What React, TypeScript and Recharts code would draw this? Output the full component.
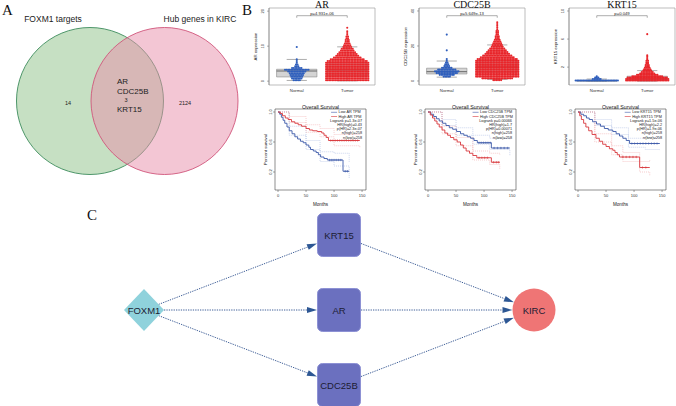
import React from 'react';
import {
  ScatterChart,
  Scatter,
  ComposedChart,
  Line,
  XAxis,
  YAxis,
  ReferenceArea,
  ReferenceLine,
} from 'recharts';

const SANS = '"Liberation Sans", Arial, Helvetica, sans-serif';
const SERIF = '"Liberation Serif", "Times New Roman", serif';

// ---------- A: Venn ----------
const vennNames = ['FOXM1 targets', 'Hub genes in KIRC'];
const vennOnly = [14, 2124];
const vennShared = 3;
const vennSharedGenes = ['AR', 'CDC25B', 'KRT15'];

// ---------- B: expression (dots per beeswarm row, lowest row first) ----------
const exprGenes = ['AR', 'CDC25B', 'KRT15'];
const exprGroups = ['Normal', 'Tumor'];
const exprPvals = ['p=4.931e-06', 'p=5.649e-13', 'p=0.049'];
const exprTicks = [[0, 5, 10, 15, 20], [0, 10, 20, 30, 40], [0, 2, 4, 6, 8, 10]];
const exprRowStep = [0.5, 1, 0.2];

const arNormalRows = [5, 7, 8, 9, 10, 12, 16, 7, 3, 2, 1, 1, 1, 0, 0, 0, 0, 0, 0, 1];
const arTumorRows = [28, 28, 28, 28, 28, 28, 28, 28, 28, 28, 28, 26, 22, 18, 15, 13, 11, 9, 8, 6, 5, 4, 3, 3, 2, 2, 1, 1, 1, 0, 1];
const cdcNormalRows = [0, 0, 5, 10, 14, 16, 12, 7, 4, 3, 2, 1, 1, 0, 0, 0, 0, 1, 0, 0, 0, 0, 0, 0, 0, 0, 1];
const cdcTumorRows = [6, 20, 28, 28, 28, 28, 28, 28, 28, 28, 28, 28, 26, 22, 19, 16, 14, 12, 10, 8, 7, 6, 5, 4, 3, 3, 2, 2, 2, 1, 1, 1, 1, 1];
const ktNormalRows = [28, 6, 3, 1];
const ktTumorRows = [28, 28, 26, 20, 14, 10, 8, 6, 5, 4, 3, 3, 2, 2, 2, 1, 1, 1, 1, 0, 0, 0, 0, 0, 0, 0, 0, 0, 0, 0, 0, 0, 0, 1];

// [lower whisker, q1, median, q3, upper whisker]
const arNormalBox = [0.2, 1.2, 2.9, 3.4, 6.2];
const arTumorBox = [0.1, 1.5, 3.2, 5.3, 9.8];
const cdcNormalBox = [2.2, 4.0, 5.3, 7.3, 11.4];
const cdcTumorBox = [0.9, 5.0, 8.0, 12.0, 20.6];
const ktNormalBox = [0, 0.02, 0.05, 0.12, 0.3];
const ktTumorBox = [0, 0.1, 0.3, 0.7, 1.5];

// ---------- B: overall survival ([months, survival]) ----------
const survTicksX = [0, 50, 100, 150];
const survTicksY = [0, 0.2, 0.4, 0.6, 0.8, 1];

const arLowSurv = [[0, 1], [3, 0.97], [6, 0.93], [9, 0.89], [12, 0.85], [16, 0.8], [20, 0.75], [25, 0.71], [30, 0.67], [35, 0.64], [40, 0.61], [45, 0.59], [50, 0.56], [55, 0.53], [58, 0.5], [63, 0.48], [68, 0.46], [72, 0.43], [76, 0.4], [82, 0.38], [88, 0.36], [116, 0.21], [127, 0.21]];
const arHighSurv = [[0, 1], [4, 0.98], [8, 0.95], [13, 0.92], [18, 0.9], [24, 0.87], [30, 0.85], [36, 0.83], [42, 0.81], [50, 0.78], [56, 0.76], [62, 0.75], [70, 0.74], [78, 0.72], [82, 0.69], [86, 0.66], [90, 0.62], [146, 0.62]];
const cdcLowSurv = [[0, 1], [5, 0.97], [10, 0.94], [15, 0.91], [20, 0.88], [26, 0.85], [32, 0.82], [38, 0.79], [44, 0.77], [51, 0.74], [58, 0.71], [64, 0.69], [70, 0.67], [76, 0.65], [82, 0.62], [88, 0.59], [113, 0.52], [146, 0.52]];
const cdcHighSurv = [[0, 1], [4, 0.96], [8, 0.92], [12, 0.88], [16, 0.84], [20, 0.8], [25, 0.76], [30, 0.72], [35, 0.69], [40, 0.66], [46, 0.63], [52, 0.6], [58, 0.56], [63, 0.52], [68, 0.48], [74, 0.45], [80, 0.42], [87, 0.39], [113, 0.33], [128, 0.33]];
const ktLowSurv = [[0, 1], [5, 0.97], [10, 0.95], [15, 0.92], [20, 0.9], [26, 0.87], [33, 0.84], [40, 0.81], [47, 0.78], [54, 0.76], [62, 0.74], [68, 0.71], [74, 0.68], [80, 0.65], [86, 0.62], [92, 0.58], [146, 0.58]];
const ktHighSurv = [[0, 1], [3, 0.95], [6, 0.9], [10, 0.85], [14, 0.8], [19, 0.75], [25, 0.7], [32, 0.65], [38, 0.61], [44, 0.57], [50, 0.54], [56, 0.51], [62, 0.49], [66, 0.46], [70, 0.43], [74, 0.4], [110, 0.26], [128, 0.26]];

// 95% bands: [months, lower, upper]
const arLowBand = [[0, 1, 1], [20, 0.69, 0.81], [50, 0.5, 0.62], [75, 0.34, 0.47], [100, 0.28, 0.45], [127, 0.12, 0.33]];
const arHighBand = [[0, 1, 1], [20, 0.86, 0.94], [50, 0.73, 0.83], [75, 0.67, 0.78], [100, 0.55, 0.7], [146, 0.53, 0.71]];
const cdcLowBand = [[0, 1, 1], [25, 0.82, 0.9], [50, 0.69, 0.79], [80, 0.57, 0.69], [110, 0.5, 0.65], [146, 0.42, 0.63]];
const cdcHighBand = [[0, 1, 1], [25, 0.71, 0.81], [50, 0.55, 0.66], [80, 0.36, 0.48], [110, 0.3, 0.45], [128, 0.24, 0.43]];
const ktLowBand = [[0, 1, 1], [30, 0.82, 0.9], [60, 0.7, 0.79], [90, 0.53, 0.65], [120, 0.5, 0.66], [146, 0.49, 0.67]];
const ktHighBand = [[0, 1, 1], [30, 0.6, 0.71], [60, 0.43, 0.55], [80, 0.34, 0.46], [110, 0.2, 0.34], [128, 0.15, 0.36]];

// censored observations
const arLowCens = [[92, 0.36], [96, 0.36], [100, 0.36], [104, 0.36], [108, 0.36], [112, 0.36], [120, 0.21], [124, 0.21]];
const arHighCens = [[94, 0.62], [98, 0.62], [102, 0.62], [106, 0.62], [110, 0.62], [114, 0.62], [118, 0.62], [122, 0.62], [126, 0.62], [130, 0.62], [134, 0.62], [138, 0.62], [142, 0.62]];
const cdcLowCens = [[91, 0.59], [95, 0.59], [99, 0.59], [103, 0.59], [107, 0.59], [111, 0.59], [118, 0.52], [124, 0.52], [130, 0.52], [136, 0.52], [142, 0.52]];
const cdcHighCens = [[91, 0.39], [96, 0.39], [101, 0.39], [106, 0.39], [117, 0.33], [122, 0.33], [126, 0.33]];
const ktLowCens = [[96, 0.58], [101, 0.58], [106, 0.58], [111, 0.58], [116, 0.58], [121, 0.58], [126, 0.58], [131, 0.58], [136, 0.58], [141, 0.58]];
const ktHighCens = [[80, 0.4], [86, 0.4], [92, 0.4], [98, 0.4], [104, 0.4], [115, 0.26], [121, 0.26]];

const survLegends = [
  ['Low AR TPM', 'High AR TPM', 'Logrank p=1.3e-07', 'HR(high)=0.43', 'p(HR)=2.3e-07', 'n(high)=258', 'n(low)=258'],
  ['Low CDC25B TPM', 'High CDC25B TPM', 'Logrank p=0.00066', 'HR(high)=1.7', 'p(HR)=0.00071', 'n(high)=258', 'n(low)=258'],
  ['Low KRT15 TPM', 'High KRT15 TPM', 'Logrank p=1.5e-06', 'HR(high)=2.2', 'p(HR)=1.9e-06', 'n(high)=258', 'n(low)=258'],
];

// ---------- C: network ----------
const netNodes = ['FOXM1', 'KRT15', 'AR', 'CDC25B', 'KIRC'];
const netEdges = [
  ['FOXM1', 'KRT15'],
  ['FOXM1', 'AR'],
  ['FOXM1', 'CDC25B'],
  ['KRT15', 'KIRC'],
  ['AR', 'KIRC'],
  ['CDC25B', 'KIRC'],
];

// ---------- layout / style ----------
const NORMAL_C = '#2f5fbd';
const TUMOR_C = '#e8262b';
const LOW_C = '#3b58a8';
const HIGH_C = '#d8383d';
const LOW_BAND_C = '#a9bbe3';
const HIGH_BAND_C = '#f1a9ab';

const VENN_R = 73.5;
const VENN_OFFSET = 0.507;
const VENN_X = [-127.25 / 73.5, (240 - 127.25) / 73.5];
const VENN_Y = [-101 / 73.5, 129 / 73.5];
const vennFill = ['#8dc187', '#e78da9'];
const vennStroke = ['#3d8c5c', '#d0557a'];

const NET_COL_PX = 195;
const NET_ROW_PX = 75;
const NET_X = [-144 / NET_COL_PX, -144 / NET_COL_PX + 676 / NET_COL_PX];
const NET_Y = [-110 / NET_ROW_PX, -110 / NET_ROW_PX + 206 / NET_ROW_PX];
const NET_LAYOUT: Record<string, { col: number; row: number; kind: string }> = {
  FOXM1: { col: 0, row: 0, kind: 'diamond' },
  KRT15: { col: 1, row: -1, kind: 'box' },
  AR: { col: 1, row: 0, kind: 'box' },
  CDC25B: { col: 1, row: 1, kind: 'box' },
  KIRC: { col: 2, row: 0, kind: 'circle' },
};

const exprRows = [[arNormalRows, arTumorRows], [cdcNormalRows, cdcTumorRows], [ktNormalRows, ktTumorRows]];
const exprBoxes = [[arNormalBox, arTumorBox], [cdcNormalBox, cdcTumorBox], [ktNormalBox, ktTumorBox]];
const exprDomains = [[-1.1, 20.9], [-2.3, 41.7], [-0.55, 10.43]];

const survSets = [
  [arLowSurv, arHighSurv, arLowBand, arHighBand, arLowCens, arHighCens],
  [cdcLowSurv, cdcHighSurv, cdcLowBand, cdcHighBand, cdcLowCens, cdcHighCens],
  [ktLowSurv, ktHighSurv, ktLowBand, ktHighBand, ktLowCens, ktHighCens],
];

const DOT_DX = 0.031;

function swarm(rows: number[], step: number, group: number) {
  const pts: { x: number; y: number }[] = [];
  rows.forEach((n, i) => {
    for (let k = 0; k < n; k++) {
      pts.push({ x: group + (k - (n - 1) / 2) * DOT_DX, y: (i + 0.5) * step });
    }
  });
  return pts;
}

const pts = (a: number[][]) => a.map(([t, s]) => ({ t, s }));
const band = (a: number[][]) => a.map(([t, lo, hi]) => ({ t, lo, hi }));

const rotTick = (fs: number, fmt?: (v: number) => string) => (p: any) => (
  <text
    x={p.x}
    y={p.y}
    transform={`rotate(-90 ${p.x} ${p.y})`}
    textAnchor="middle"
    fontSize={fs}
    fill="#333"
  >
    {fmt ? fmt(p.payload.value) : p.payload.value}
  </text>
);

const dot = (color: string) => (p: any) => <circle cx={p.cx} cy={p.cy} r={1.05} fill={color} />;

const plus = (color: string) => (p: any) => (
  <path
    d={`M${p.cx - 1.2},${p.cy}h2.4M${p.cx},${p.cy - 1.2}v2.4`}
    stroke={color}
    strokeWidth={0.5}
  />
);

const BOX_LINE = '#8a8a8a';

function boxBody(b: number[], g: number, key: string) {
  const [lo, q1, med, q3, hi] = b;
  return [
    <ReferenceLine key={key + 'w1'} segment={[{ x: g, y: lo }, { x: g, y: q1 }]} stroke={BOX_LINE} strokeWidth={0.6} />,
    <ReferenceLine key={key + 'w2'} segment={[{ x: g, y: q3 }, { x: g, y: hi }]} stroke={BOX_LINE} strokeWidth={0.6} />,
    <ReferenceArea key={key + 'box'} x1={g - 0.4} x2={g + 0.4} y1={q1} y2={q3} fill="#d4d4d4" fillOpacity={1} stroke={BOX_LINE} strokeWidth={0.6} />,
    <ReferenceLine key={key + 'med'} segment={[{ x: g - 0.4, y: med }, { x: g + 0.4, y: med }]} stroke="#666" strokeWidth={1} />,
  ];
}

function boxCaps(b: number[], g: number, key: string) {
  const lo = b[0];
  const hi = b[4];
  return [
    <ReferenceLine key={key + 'c1'} segment={[{ x: g - 0.2, y: lo }, { x: g + 0.2, y: lo }]} stroke={BOX_LINE} strokeWidth={0.7} />,
    <ReferenceLine key={key + 'c2'} segment={[{ x: g - 0.2, y: hi }, { x: g + 0.2, y: hi }]} stroke={BOX_LINE} strokeWidth={0.7} />,
  ];
}

function Venn() {
  const circles = vennNames.map((name, i) => ({ name, i, x: i === 0 ? -VENN_OFFSET : VENN_OFFSET, y: 0 }));
  return (
    <div style={{ position: 'absolute', left: 0, top: 0 }}>
      <ScatterChart width={240} height={230} margin={{ top: 0, right: 0, bottom: 0, left: 0 }}>
        <XAxis type="number" dataKey="x" domain={VENN_X} hide allowDataOverflow />
        <YAxis type="number" dataKey="y" domain={VENN_Y} hide reversed allowDataOverflow />
        <Scatter
          data={circles}
          isAnimationActive={false}
          shape={(p: any) => (
            <circle
              cx={p.cx}
              cy={p.cy}
              r={VENN_R}
              fill={vennFill[p.payload.i]}
              fillOpacity={0.5}
              stroke={vennStroke[p.payload.i]}
              strokeWidth={0.9}
            />
          )}
        />
      </ScatterChart>
    </div>
  );
}

function ExprPlot({ idx }: { idx: number }) {
  const [y0, y1] = exprDomains[idx];
  const span = y1 - y0;
  const brY = y1 - span * 0.1;
  const brT = span * 0.027;
  const normal = swarm(exprRows[idx][0], exprRowStep[idx], 1);
  const tumor = swarm(exprRows[idx][1], exprRowStep[idx], 2);
  return (
    <div style={{ position: 'absolute', left: 240 + idx * 150, top: 0 }}>
      <ScatterChart width={136} height={100} margin={{ top: 8, right: 1, bottom: 0, left: 0 }}>
        <XAxis
          type="number"
          dataKey="x"
          domain={[0.45, 2.55]}
          ticks={[1, 2]}
          tickFormatter={(v: number) => exprGroups[v - 1]}
          axisLine={false}
          tickLine={false}
          tickSize={2}
          tickMargin={2}
          height={15}
          tick={{ fontSize: 4.3, fill: '#333' }}
          allowDataOverflow
        />
        <YAxis
          type="number"
          dataKey="y"
          domain={[y0, y1]}
          ticks={exprTicks[idx]}
          width={29}
          tickSize={2}
          tickMargin={3}
          axisLine={{ stroke: '#666', strokeWidth: 0.5 }}
          tickLine={{ stroke: '#666', strokeWidth: 0.5 }}
          tick={rotTick(4)}
          allowDataOverflow
          label={{
            value: `${exprGenes[idx]} expression`,
            angle: -90,
            position: 'insideLeft',
            offset: 15,
            fontSize: 4.3,
            fill: '#222',
            style: { textAnchor: 'middle' },
          }}
        />
        <ReferenceArea x1={0.45} x2={2.55} y1={y0} y2={y1} fill="none" stroke="#a0a0a0" strokeWidth={0.7} />
        {exprBoxes[idx].map((b, g) => boxBody(b, g + 1, `b${g}`))}
        <Scatter data={normal} isAnimationActive={false} shape={dot(NORMAL_C)} />
        <Scatter data={tumor} isAnimationActive={false} shape={dot(TUMOR_C)} />
        {exprBoxes[idx].map((b, g) => boxCaps(b, g + 1, `c${g}`))}
        <ReferenceLine
          segment={[{ x: 1, y: brY }, { x: 2, y: brY }]}
          stroke="#777"
          strokeWidth={0.6}
          label={{ value: exprPvals[idx], position: 'top', offset: 1, fontSize: 4.2, fill: '#222' }}
        />
        <ReferenceLine segment={[{ x: 1, y: brY }, { x: 1, y: brY - brT }]} stroke="#777" strokeWidth={0.6} />
        <ReferenceLine segment={[{ x: 2, y: brY }, { x: 2, y: brY - brT }]} stroke="#777" strokeWidth={0.6} />
      </ScatterChart>
    </div>
  );
}

function SurvPlot({ idx }: { idx: number }) {
  const [low, high, lowBand, highBand, lowCens, highCens] = survSets[idx];
  return (
    <div style={{ position: 'absolute', left: 240 + idx * 150, top: 95 }}>
      <ComposedChart width={135} height={115} margin={{ top: 14, right: 9, bottom: 0, left: 0 }}>
        <XAxis
          type="number"
          dataKey="t"
          domain={[-5.4, 157]}
          ticks={survTicksX}
          height={20}
          axisLine={false}
          tickSize={2}
          tickMargin={2}
          tickLine={{ stroke: '#444', strokeWidth: 0.5 }}
          tick={{ fontSize: 4, fill: '#333' }}
          allowDataOverflow
          label={{ value: 'Months', position: 'insideBottom', offset: 4, fontSize: 4.6, fill: '#222' }}
        />
        <YAxis
          type="number"
          domain={[-0.04, 1.04]}
          ticks={survTicksY}
          width={35}
          axisLine={false}
          tickSize={2}
          tickMargin={1}
          tickLine={{ stroke: '#444', strokeWidth: 0.5 }}
          tick={rotTick(4, (v) => v.toFixed(1))}
          allowDataOverflow
          label={{
            value: 'Percent survival',
            angle: -90,
            position: 'insideLeft',
            offset: 25,
            fontSize: 4.4,
            fill: '#222',
            style: { textAnchor: 'middle' },
          }}
        />
        <ReferenceArea x1={-5.4} x2={157} y1={-0.04} y2={1.04} fill="none" stroke="#444" strokeWidth={0.6} />
        <Line data={band(lowBand)} dataKey="lo" type="stepAfter" stroke={LOW_BAND_C} strokeWidth={0.6} strokeDasharray="1 1" dot={false} isAnimationActive={false} />
        <Line data={band(lowBand)} dataKey="hi" type="stepAfter" stroke={LOW_BAND_C} strokeWidth={0.6} strokeDasharray="1 1" dot={false} isAnimationActive={false} />
        <Line data={band(highBand)} dataKey="lo" type="stepAfter" stroke={HIGH_BAND_C} strokeWidth={0.6} strokeDasharray="1 1" dot={false} isAnimationActive={false} />
        <Line data={band(highBand)} dataKey="hi" type="stepAfter" stroke={HIGH_BAND_C} strokeWidth={0.6} strokeDasharray="1 1" dot={false} isAnimationActive={false} />
        <Line data={pts(low)} dataKey="s" type="stepAfter" stroke={LOW_C} strokeWidth={0.9} dot={false} isAnimationActive={false} />
        <Line data={pts(high)} dataKey="s" type="stepAfter" stroke={HIGH_C} strokeWidth={0.9} dot={false} isAnimationActive={false} />
        <Scatter data={pts(lowCens)} dataKey="s" shape={plus(LOW_C)} isAnimationActive={false} />
        <Scatter data={pts(highCens)} dataKey="s" shape={plus(HIGH_C)} isAnimationActive={false} />
      </ComposedChart>
    </div>
  );
}

function trimT(kind: string, dx: number, dy: number) {
  const ax = Math.abs(dx);
  const ay = Math.abs(dy);
  if (kind === 'box') return Math.min(ax ? 22 / ax : Infinity, ay ? 22 / ay : Infinity);
  if (kind === 'diamond') return 1 / (ax / 20 + ay / 21);
  return 21.5 / Math.hypot(dx, dy);
}

const EdgeShape = (p: any) => {
  const { cx, cy, payload } = p;
  const a = NET_LAYOUT[payload.from];
  const b = NET_LAYOUT[payload.to];
  const dx = (b.col - a.col) * NET_COL_PX;
  const dy = (b.row - a.row) * NET_ROW_PX;
  const len = Math.hypot(dx, dy);
  const ux = dx / len;
  const uy = dy / len;
  const t0 = trimT(a.kind, dx, dy);
  const t1 = 1 - trimT(b.kind, dx, dy);
  const sx = cx + dx * t0;
  const sy = cy + dy * t0;
  const ex = cx + dx * t1;
  const ey = cy + dy * t1;
  const bx = ex - ux * 10;
  const by = ey - uy * 10;
  return (
    <g>
      <line x1={sx} y1={sy} x2={bx} y2={by} stroke="#3f5f98" strokeWidth={1} strokeDasharray="1.3 1.1" />
      <polygon points={`${ex},${ey} ${bx - uy * 3},${by + ux * 3} ${bx + uy * 3},${by - ux * 3}`} fill="#2d5794" />
    </g>
  );
};

const NodeShape = (p: any) => {
  const { cx, cy, payload } = p;
  const kind = NET_LAYOUT[payload.name].kind;
  let el;
  if (kind === 'diamond') {
    el = <polygon points={`${cx - 20},${cy} ${cx},${cy - 21} ${cx + 20},${cy} ${cx},${cy + 21}`} fill="#8fd2dc" />;
  } else if (kind === 'box') {
    el = <rect x={cx - 21.5} y={cy - 21.5} width={43} height={43} rx={5} fill="#6b70bf" stroke="#8d91d4" strokeWidth={1} />;
  } else {
    el = <circle cx={cx} cy={cy} r={21.5} fill="#ef7575" />;
  }
  return (
    <g>
      {el}
      <text x={cx} y={cy} textAnchor="middle" dominantBaseline="central" fontSize={9.5} fill="#1c1c33">
        {payload.name}
      </text>
    </g>
  );
};

function Network() {
  const nodes = netNodes.map((name) => ({ name, x: NET_LAYOUT[name].col, y: NET_LAYOUT[name].row }));
  const edges = netEdges.map(([from, to]) => ({ from, to, x: NET_LAYOUT[from].col, y: NET_LAYOUT[from].row }));
  return (
    <div style={{ position: 'absolute', left: 0, top: 200 }}>
      <ScatterChart width={676} height={206} margin={{ top: 0, right: 0, bottom: 0, left: 0 }}>
        <XAxis type="number" dataKey="x" domain={NET_X} hide allowDataOverflow />
        <YAxis type="number" dataKey="y" domain={NET_Y} hide reversed allowDataOverflow />
        <Scatter data={edges} shape={EdgeShape} isAnimationActive={false} />
        <Scatter data={nodes} shape={NodeShape} isAnimationActive={false} />
      </ScatterChart>
    </div>
  );
}

function Annotations() {
  const lfs = 3.8;
  return (
    <svg width={676} height={406} style={{ position: 'absolute', left: 0, top: 0, pointerEvents: 'none' }}>
      <text x={2} y={15} fontFamily={SERIF} fontSize={15} fill="#111">A</text>
      <text x={242} y={15} fontFamily={SERIF} fontSize={15} fill="#111">B</text>
      <text x={87} y={220} fontFamily={SERIF} fontSize={15} fill="#111">C</text>

      <text x={53} y={19} textAnchor="middle" dominantBaseline="central" fontSize={8.5} fill="#222">{vennNames[0]}</text>
      <text x={200} y={19} textAnchor="middle" dominantBaseline="central" fontSize={8.5} fill="#222">{vennNames[1]}</text>
      <text x={68} y={103} textAnchor="middle" dominantBaseline="central" fontSize={5.5} fill="#222">{vennOnly[0]}</text>
      <text x={185} y={103} textAnchor="middle" dominantBaseline="central" fontSize={5.5} fill="#222">{vennOnly[1]}</text>
      <text x={126} y={100} textAnchor="middle" dominantBaseline="central" fontSize={5.5} fill="#222">{vennShared}</text>
      {vennSharedGenes.map((g, i) => (
        <text key={g} x={117} y={[81.5, 91, 109.7][i]} dominantBaseline="central" fontSize={8} fill="#222">{g}</text>
      ))}

      {exprGenes.map((g, i) => (
        <text key={g} x={322 + 150 * i} y={8.4} textAnchor="middle" fontFamily={SERIF} fontSize={10} fill="#111">{g}</text>
      ))}

      {exprGenes.map((g, i) => (
        <text key={'os' + g} x={320.5 + 150 * i} y={106.8} textAnchor="middle" dominantBaseline="central" fontSize={5.3} fill="#222">
          Overall Survival
        </text>
      ))}

      {survLegends.map((lines, i) => {
        const right = 362 + 150 * i;
        const w = Math.max(lines[0].length, lines[1].length) * 0.56 * lfs;
        return (
          <g key={'lg' + i}>
            {lines.map((t, j) => {
              const y = 112.3 + j * 4.2;
              if (j < 2) {
                return (
                  <g key={j}>
                    <line x1={right - w - 7.5} x2={right - w - 1.5} y1={y} y2={y} stroke={j === 0 ? LOW_C : HIGH_C} strokeWidth={0.6} />
                    <text x={right - w} y={y} dominantBaseline="central" fontSize={lfs} fill="#222">{t}</text>
                  </g>
                );
              }
              return (
                <text key={j} x={right} y={y} textAnchor="end" dominantBaseline="central" fontSize={lfs} fill="#222">{t}</text>
              );
            })}
          </g>
        );
      })}
    </svg>
  );
}

export default function App() {
  return (
    <div
      style={{
        position: 'fixed',
        left: 0,
        top: 0,
        width: 676,
        height: 406,
        background: '#fff',
        overflow: 'hidden',
        fontFamily: SANS,
      }}
    >
      <Network />
      <Venn />
      {exprGenes.map((g, i) => (
        <ExprPlot key={'e' + g} idx={i} />
      ))}
      {exprGenes.map((g, i) => (
        <SurvPlot key={'s' + g} idx={i} />
      ))}
      <Annotations />
    </div>
  );
}
